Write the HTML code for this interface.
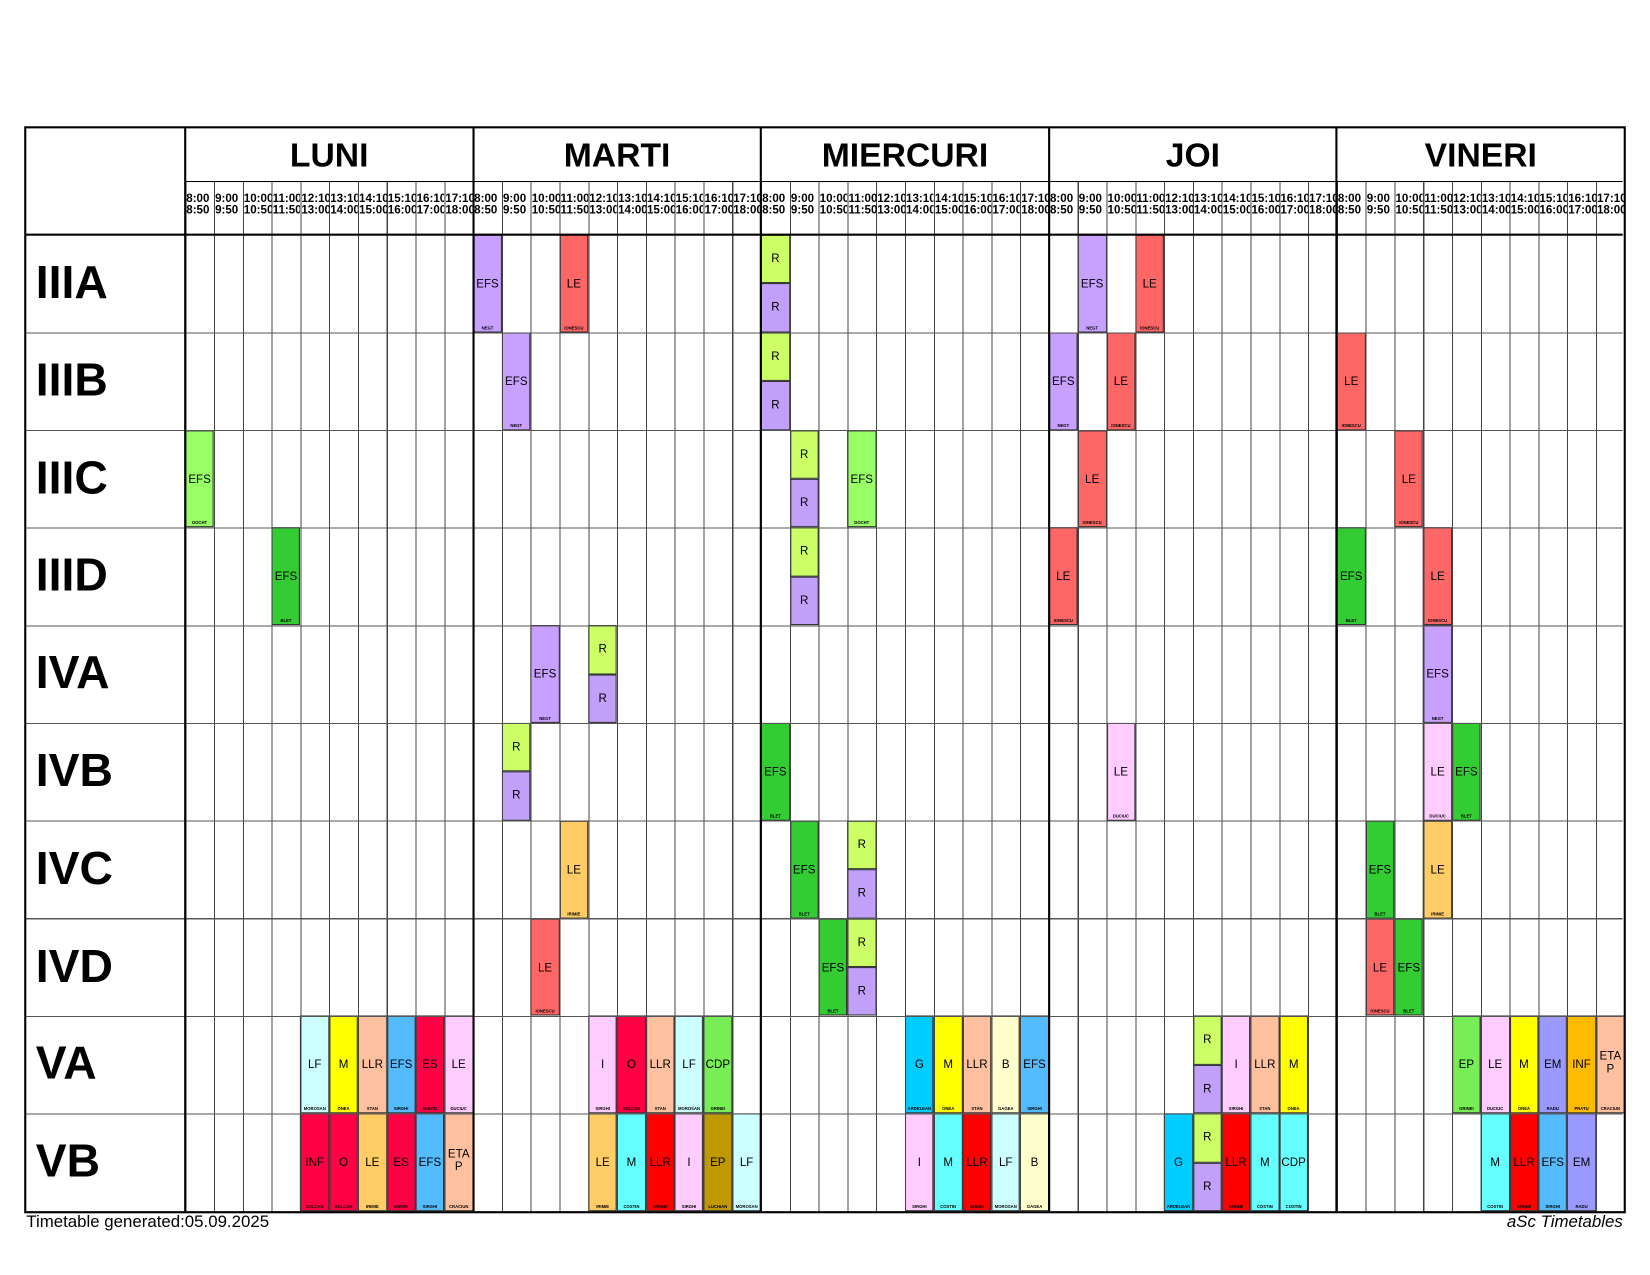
<!DOCTYPE html>
<html><head><meta charset="utf-8">
<style>
body{margin:0;background:#fff;font-family:"Liberation Sans",sans-serif;}
#o{position:relative;width:1650px;height:1275px;overflow:hidden;background:#fff}
#w{position:absolute;left:0;top:0;width:1568px;height:1212px;transform:scale(1.05230);transform-origin:0 0}
.a{position:absolute}
.c{position:absolute;left:calc(176px + var(--c)*27.36px);top:calc(223px + var(--r)*92.8px);width:27.36px;height:92.8px;box-sizing:border-box;border:1px solid #333;font-size:11px;text-align:center;color:#000}
.c b{font-weight:normal;position:absolute;left:-4px;right:-4px;top:40px}
.c i{font-style:normal;position:absolute;left:1px;right:1px;bottom:1px;font-size:4px;line-height:5px;font-weight:bold;overflow:hidden}
.h{height:46.4px}
.h b{top:16px}
.h2{top:calc(223px + var(--r)*92.8px + 46.4px)}
.pu{background:#c8a0ff}.rp{background:#c0a0f8}.gl{background:#ccff66}.lg{background:#99ff66}.dg{background:#33cc33}
.rd{background:#ff6666}.pk{background:#ffccff}.or{background:#ffcc66}.lc{background:#ccffff}.ye{background:#ffff00}
.pe{background:#ffc0a0}.bl{background:#55bbff}.cr{background:#ff0044}.cd{background:#77ee55}.gg{background:#00ccff}
.ly{background:#ffffcc}.em{background:#9999ff}.inf{background:#ffbb00}.cy{background:#66ffff}.red{background:#ff0000}.ol{background:#c09900}
.row{position:absolute;left:34px;font-size:44px;font-weight:bold;line-height:92.8px}
.day{position:absolute;top:121px;height:51px;width:273.6px;text-align:center;font-size:32px;font-weight:bold;line-height:52px}
.t{position:absolute;top:184px;width:27.36px;overflow:hidden;font-size:11px;font-weight:bold;line-height:11px;white-space:pre;padding-left:1px;box-sizing:border-box}
</style></head><body><div id="o"><div id="w">

<div class="c pu" style="--c:10;--r:0"><b>EFS</b><i>NEGT</i></div>
<div class="c rd" style="--c:13;--r:0"><b>LE</b><i>IONESCU</i></div>
<div class="c gl h" style="--c:20;--r:0"><b>R</b></div><div class="c rp h h2" style="--c:20;--r:0"><b>R</b></div>
<div class="c pu" style="--c:31;--r:0"><b>EFS</b><i>NEGT</i></div>
<div class="c rd" style="--c:33;--r:0"><b>LE</b><i>IONESCU</i></div>

<div class="c pu" style="--c:11;--r:1"><b>EFS</b><i>NEGT</i></div>
<div class="c gl h" style="--c:20;--r:1"><b>R</b></div><div class="c rp h h2" style="--c:20;--r:1"><b>R</b></div>
<div class="c pu" style="--c:30;--r:1"><b>EFS</b><i>NEGT</i></div>
<div class="c rd" style="--c:32;--r:1"><b>LE</b><i>IONESCU</i></div>
<div class="c rd" style="--c:40;--r:1"><b>LE</b><i>IONESCU</i></div>

<div class="c lg" style="--c:0;--r:2"><b>EFS</b><i>DOCHT</i></div>
<div class="c gl h" style="--c:21;--r:2"><b>R</b></div><div class="c rp h h2" style="--c:21;--r:2"><b>R</b></div>
<div class="c lg" style="--c:23;--r:2"><b>EFS</b><i>DOCHT</i></div>
<div class="c rd" style="--c:31;--r:2"><b>LE</b><i>IONESCU</i></div>
<div class="c rd" style="--c:42;--r:2"><b>LE</b><i>IONESCU</i></div>

<div class="c dg" style="--c:3;--r:3"><b>EFS</b><i>BLET</i></div>
<div class="c gl h" style="--c:21;--r:3"><b>R</b></div><div class="c rp h h2" style="--c:21;--r:3"><b>R</b></div>
<div class="c rd" style="--c:30;--r:3"><b>LE</b><i>IONESCU</i></div>
<div class="c dg" style="--c:40;--r:3"><b>EFS</b><i>BLET</i></div>
<div class="c rd" style="--c:43;--r:3"><b>LE</b><i>IONESCU</i></div>

<div class="c pu" style="--c:12;--r:4"><b>EFS</b><i>NEGT</i></div>
<div class="c gl h" style="--c:14;--r:4"><b>R</b></div><div class="c rp h h2" style="--c:14;--r:4"><b>R</b></div>
<div class="c pu" style="--c:43;--r:4"><b>EFS</b><i>NEGT</i></div>

<div class="c gl h" style="--c:11;--r:5"><b>R</b></div><div class="c rp h h2" style="--c:11;--r:5"><b>R</b></div>
<div class="c dg" style="--c:20;--r:5"><b>EFS</b><i>BLET</i></div>
<div class="c pk" style="--c:32;--r:5"><b>LE</b><i>DUCIUC</i></div>
<div class="c pk" style="--c:43;--r:5"><b>LE</b><i>DUCIUC</i></div>
<div class="c dg" style="--c:44;--r:5"><b>EFS</b><i>BLET</i></div>

<div class="c or" style="--c:13;--r:6"><b>LE</b><i>IRIMIE</i></div>
<div class="c dg" style="--c:21;--r:6"><b>EFS</b><i>BLET</i></div>
<div class="c gl h" style="--c:23;--r:6"><b>R</b></div><div class="c rp h h2" style="--c:23;--r:6"><b>R</b></div>
<div class="c dg" style="--c:41;--r:6"><b>EFS</b><i>BLET</i></div>
<div class="c or" style="--c:43;--r:6"><b>LE</b><i>IRIMIE</i></div>

<div class="c rd" style="--c:12;--r:7"><b>LE</b><i>IONESCU</i></div>
<div class="c dg" style="--c:22;--r:7"><b>EFS</b><i>BLET</i></div>
<div class="c gl h" style="--c:23;--r:7"><b>R</b></div><div class="c rp h h2" style="--c:23;--r:7"><b>R</b></div>
<div class="c rd" style="--c:41;--r:7"><b>LE</b><i>IONESCU</i></div>
<div class="c dg" style="--c:42;--r:7"><b>EFS</b><i>BLET</i></div>

<div class="c lc" style="--c:4;--r:8"><b>LF</b><i>MOROSAN</i></div>
<div class="c ye" style="--c:5;--r:8"><b>M</b><i>ONEA</i></div>
<div class="c pe" style="--c:6;--r:8"><b>LLR</b><i>STAN</i></div>
<div class="c bl" style="--c:7;--r:8"><b>EFS</b><i>SIRGHI</i></div>
<div class="c cr" style="--c:8;--r:8"><b>ES</b><i>MIRON</i></div>
<div class="c pk" style="--c:9;--r:8"><b>LE</b><i>DUCIUC</i></div>
<div class="c pk" style="--c:14;--r:8"><b>I</b><i>SIRGHI</i></div>
<div class="c cr" style="--c:15;--r:8"><b>O</b><i>SOLCAN</i></div>
<div class="c pe" style="--c:16;--r:8"><b>LLR</b><i>STAN</i></div>
<div class="c lc" style="--c:17;--r:8"><b>LF</b><i>MOROSAN</i></div>
<div class="c cd" style="--c:18;--r:8"><b>CDP</b><i>GRINEI</i></div>
<div class="c gg" style="--c:25;--r:8"><b>G</b><i>ARDELEAN</i></div>
<div class="c ye" style="--c:26;--r:8"><b>M</b><i>ONEA</i></div>
<div class="c pe" style="--c:27;--r:8"><b>LLR</b><i>STAN</i></div>
<div class="c ly" style="--c:28;--r:8"><b>B</b><i>GAGEA</i></div>
<div class="c bl" style="--c:29;--r:8"><b>EFS</b><i>SIRGHI</i></div>
<div class="c gl h" style="--c:35;--r:8"><b>R</b></div><div class="c rp h h2" style="--c:35;--r:8"><b>R</b></div>
<div class="c pk" style="--c:36;--r:8"><b>I</b><i>SIRGHI</i></div>
<div class="c pe" style="--c:37;--r:8"><b>LLR</b><i>STAN</i></div>
<div class="c ye" style="--c:38;--r:8"><b>M</b><i>ONEA</i></div>
<div class="c cd" style="--c:44;--r:8"><b>EP</b><i>GRINEI</i></div>
<div class="c pk" style="--c:45;--r:8"><b>LE</b><i>DUCIUC</i></div>
<div class="c ye" style="--c:46;--r:8"><b>M</b><i>ONEA</i></div>
<div class="c em" style="--c:47;--r:8"><b>EM</b><i>RADU</i></div>
<div class="c inf" style="--c:48;--r:8"><b>INF</b><i>PRATU</i></div>
<div class="c pe" style="--c:49;--r:8"><b style="top:32px;line-height:12px">ETA<br>P</b><i>CRACIUN</i></div>

<div class="c cr" style="--c:4;--r:9"><b>INF</b><i>SOLCAN</i></div>
<div class="c cr" style="--c:5;--r:9"><b>O</b><i>SOLCAN</i></div>
<div class="c or" style="--c:6;--r:9"><b>LE</b><i>IRIMIE</i></div>
<div class="c cr" style="--c:7;--r:9"><b>ES</b><i>MIRON</i></div>
<div class="c bl" style="--c:8;--r:9"><b>EFS</b><i>SIRGHI</i></div>
<div class="c pe" style="--c:9;--r:9"><b style="top:32px;line-height:12px">ETA<br>P</b><i>CRACIUN</i></div>
<div class="c or" style="--c:14;--r:9"><b>LE</b><i>IRIMIE</i></div>
<div class="c cy" style="--c:15;--r:9"><b>M</b><i>COSTIN</i></div>
<div class="c red" style="--c:16;--r:9"><b>LLR</b><i>GRINEI</i></div>
<div class="c pk" style="--c:17;--r:9"><b>I</b><i>SIRGHI</i></div>
<div class="c ol" style="--c:18;--r:9"><b>EP</b><i>LUCHIAN</i></div>
<div class="c lc" style="--c:19;--r:9"><b>LF</b><i>MOROSAN</i></div>
<div class="c pk" style="--c:25;--r:9"><b>I</b><i>SIRGHI</i></div>
<div class="c cy" style="--c:26;--r:9"><b>M</b><i>COSTIN</i></div>
<div class="c red" style="--c:27;--r:9"><b>LLR</b><i>GRINEI</i></div>
<div class="c lc" style="--c:28;--r:9"><b>LF</b><i>MOROSAN</i></div>
<div class="c ly" style="--c:29;--r:9"><b>B</b><i>GAGEA</i></div>
<div class="c gg" style="--c:34;--r:9"><b>G</b><i>ARDELEAN</i></div>
<div class="c gl h" style="--c:35;--r:9"><b>R</b></div><div class="c rp h h2" style="--c:35;--r:9"><b>R</b></div>
<div class="c red" style="--c:36;--r:9"><b>LLR</b><i>GRINEI</i></div>
<div class="c cy" style="--c:37;--r:9"><b>M</b><i>COSTIN</i></div>
<div class="c cy" style="--c:38;--r:9"><b>CDP</b><i>COSTIN</i></div>
<div class="c cy" style="--c:45;--r:9"><b>M</b><i>COSTIN</i></div>
<div class="c red" style="--c:46;--r:9"><b>LLR</b><i>GRINEI</i></div>
<div class="c bl" style="--c:47;--r:9"><b>EFS</b><i>SIRGHI</i></div>
<div class="c em" style="--c:48;--r:9"><b>EM</b><i>RADU</i></div>

<div class="a" style="left:176px;top:172px;width:1366px;height:979px;background:repeating-linear-gradient(to right,#444 0,#444 1px,transparent 1px,transparent 27.36px)"></div>
<div class="a" style="left:24px;top:223px;width:1518px;height:928px;background:repeating-linear-gradient(to bottom,#555 0,#555 1px,transparent 1px,transparent 92.8px)"></div>
<div class="a" style="left:176px;top:172px;width:1366px;height:1px;background:#000"></div>
<div class="a" style="left:24px;top:222px;width:1518px;height:2px;background:#000"></div>
<div class="a" style="left:175px;top:121px;width:2px;height:1030px;background:#000"></div>
<div class="a" style="left:449px;top:121px;width:2px;height:1030px;background:#000"></div>
<div class="a" style="left:722px;top:121px;width:2px;height:1030px;background:#000"></div>
<div class="a" style="left:996px;top:121px;width:2px;height:1030px;background:#000"></div>
<div class="a" style="left:1269px;top:121px;width:2px;height:1030px;background:#000"></div>
<div class="a" style="left:23px;top:120px;width:1518px;height:1029px;border:2px solid #000"></div>

<div class="day" style="left:176px">LUNI</div>
<div class="day" style="left:449.6px">MARTI</div>
<div class="day" style="left:723.2px">MIERCURI</div>
<div class="day" style="left:996.8px">JOI</div>
<div class="day" style="left:1270.4px">VINERI</div>

<div class="row" style="top:223px">IIIA</div>
<div class="row" style="top:315.8px">IIIB</div>
<div class="row" style="top:408.6px">IIIC</div>
<div class="row" style="top:501.4px">IIID</div>
<div class="row" style="top:594.2px">IVA</div>
<div class="row" style="top:687px">IVB</div>
<div class="row" style="top:779.8px">IVC</div>
<div class="row" style="top:872.6px">IVD</div>
<div class="row" style="top:965.4px">VA</div>
<div class="row" style="top:1058.2px">VB</div>

<div style="position:absolute;left:0;top:0">
<div class="t" style="left:176px">8:00
8:50</div><div class="t" style="left:203.4px">9:00
9:50</div><div class="t" style="left:230.7px">10:00
10:50</div><div class="t" style="left:258.1px">11:00
11:50</div><div class="t" style="left:285.4px">12:10
13:00</div><div class="t" style="left:312.8px">13:10
14:00</div><div class="t" style="left:340.2px">14:10
15:00</div><div class="t" style="left:367.5px">15:10
16:00</div><div class="t" style="left:394.9px">16:10
17:00</div><div class="t" style="left:422.2px">17:10
18:00</div>
<div class="t" style="left:449.6px">8:00
8:50</div><div class="t" style="left:477px">9:00
9:50</div><div class="t" style="left:504.3px">10:00
10:50</div><div class="t" style="left:531.7px">11:00
11:50</div><div class="t" style="left:559px">12:10
13:00</div><div class="t" style="left:586.4px">13:10
14:00</div><div class="t" style="left:613.8px">14:10
15:00</div><div class="t" style="left:641.1px">15:10
16:00</div><div class="t" style="left:668.5px">16:10
17:00</div><div class="t" style="left:695.8px">17:10
18:00</div>
<div class="t" style="left:723.2px">8:00
8:50</div><div class="t" style="left:750.6px">9:00
9:50</div><div class="t" style="left:777.9px">10:00
10:50</div><div class="t" style="left:805.3px">11:00
11:50</div><div class="t" style="left:832.6px">12:10
13:00</div><div class="t" style="left:860px">13:10
14:00</div><div class="t" style="left:887.4px">14:10
15:00</div><div class="t" style="left:914.7px">15:10
16:00</div><div class="t" style="left:942.1px">16:10
17:00</div><div class="t" style="left:969.4px">17:10
18:00</div>
<div class="t" style="left:996.8px">8:00
8:50</div><div class="t" style="left:1024.2px">9:00
9:50</div><div class="t" style="left:1051.5px">10:00
10:50</div><div class="t" style="left:1078.9px">11:00
11:50</div><div class="t" style="left:1106.2px">12:10
13:00</div><div class="t" style="left:1133.6px">13:10
14:00</div><div class="t" style="left:1161px">14:10
15:00</div><div class="t" style="left:1188.3px">15:10
16:00</div><div class="t" style="left:1215.7px">16:10
17:00</div><div class="t" style="left:1243px">17:10
18:00</div>
<div class="t" style="left:1270.4px">8:00
8:50</div><div class="t" style="left:1297.8px">9:00
9:50</div><div class="t" style="left:1325.1px">10:00
10:50</div><div class="t" style="left:1352.5px">11:00
11:50</div><div class="t" style="left:1379.8px">12:10
13:00</div><div class="t" style="left:1407.2px">13:10
14:00</div><div class="t" style="left:1434.6px">14:10
15:00</div><div class="t" style="left:1461.9px">15:10
16:00</div><div class="t" style="left:1489.3px">16:10
17:00</div><div class="t" style="left:1516.6px">17:10
18:00</div>
</div>

<div class="a" style="left:25px;top:1153px;font-size:16px">Timetable generated:05.09.2025</div>
<div class="a" style="left:1432px;top:1153px;font-size:16px;font-style:italic">aSc Timetables</div>
</div></div></body></html>
